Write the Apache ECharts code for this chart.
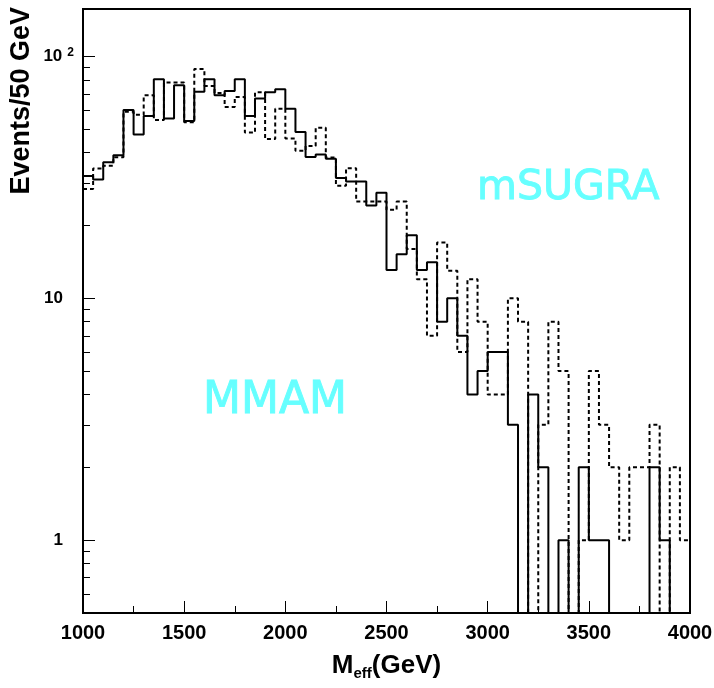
<!DOCTYPE html>
<html>
<head>
<meta charset="utf-8">
<script src="https://cdn.jsdelivr.net/npm/echarts@6/dist/echarts.min.js"></script>
<style>
  html, body { margin: 0; padding: 0; background: #fff; }
  #chart { width: 714px; height: 688px; }
</style>
</head>
<body>
<div id="chart"></div>
<script>
// ---- data (events per 50 GeV bin, bins from 1000 to 4000 GeV) ----
const binStart = 1000;
const binWidth = 50;
const mmam = [ // solid histogram
  32, 31, 36.5, 39, 60, 47.5, 56.7, 80.5, 55.3, 76,
  54, 71.4, 80.5, 69, 72, 80.5, 56.7, 67, 71, 73.2,
  60.8, 48.7, 38.4, 39.3, 37.7, 31.4, 30.4, 30.4, 24.2, 27.3,
  13.1, 15.2, 18.2, 13.1, 14.1, 8, 10, 7, 4, 5,
  6, 6, 3, 0, 4, 2, 0, 1, 0, 2,
  1, 1, 0, 0, 0, 0, 2, 1, 0, 0
];
const msugra = [ // dashed histogram
  28.3, 34.4, 35.3, 38.3, 59, 57.4, 69, 54.6, 78, 78,
  53.4, 88.6, 75.5, 70.5, 61.8, 68, 48.4, 71, 45.5, 60.8,
  45.8, 40.7, 42.6, 50.7, 38.2, 29.2, 34.5, 25.1, 25.1, 25.1,
  23.2, 25.1, 16, 12, 7, 17, 13, 6, 12, 8,
  4, 4, 10, 8, 0, 3, 8, 5, 0, 1,
  5, 3, 2, 1, 2, 2, 3, 0, 2, 1
];
const yMajorTicks = [1, 10, 100];
const yMinorTicks = [0.6, 0.7, 0.8, 0.9, 2, 3, 4, 5, 6, 7, 8, 9, 20, 30, 40, 50, 60, 70, 80, 90];
const xLabels = [1000, 1500, 2000, 2500, 3000, 3500, 4000];

// empty bins (0) cannot be drawn on a log axis: push them below the visible range (clipped)
const FLOOR = 1e-3;
function stepData(arr) {
  const pts = arr.map((v, i) => [binStart + i * binWidth, v > 0 ? v : FLOOR]);
  const last = arr[arr.length - 1];
  pts.push([binStart + arr.length * binWidth, last > 0 ? last : FLOOR]);
  return pts;
}

const chart = echarts.init(document.getElementById('chart'), null, { renderer: 'canvas' });
const FONT = 'Liberation Sans';
const yMin = 0.5, yMax = 157;
const CYAN = '#66ffff';

chart.setOption({
  animation: false,
  backgroundColor: '#ffffff',
  grid: {
    left: 83, right: 24, top: 9, bottom: 75,
    containLabel: false, outerBoundsMode: 'none',
    show: true, borderColor: '#000', borderWidth: 2, backgroundColor: 'transparent'
  },
  xAxis: {
    type: 'value', min: 1000, max: 4000, interval: 500,
    axisLine: { show: true, lineStyle: { color: '#000', width: 2 } },
    axisTick: { show: true, inside: true, length: 12, lineStyle: { color: '#000', width: 1 } },
    minorTick: { show: true, splitNumber: 2, length: 7, lineStyle: { color: '#000', width: 1 } },
    splitLine: { show: false },
    axisLabel: {
      color: '#000', fontFamily: FONT, fontWeight: 'bold', fontSize: 20, margin: 10,
      customValues: xLabels,
      formatter: function (v) { return String(v); }
    },
    name: 'M{sub|eff}(GeV)',
    nameLocation: 'middle',
    nameGap: 37,
    nameTextStyle: {
      color: '#000', fontFamily: FONT, fontWeight: 'bold', fontSize: 26,
      rich: { sub: { color: '#000', fontFamily: FONT, fontWeight: 'bold', fontSize: 15, padding: [16, 0, 0, 0] } }
    }
  },
  yAxis: [
    {
      type: 'log', logBase: 10, min: yMin, max: yMax,
      axisLine: { show: true, lineStyle: { color: '#000', width: 2 } },
      axisTick: { show: true, inside: true, length: 12, customValues: yMajorTicks, lineStyle: { color: '#000', width: 1 } },
      splitLine: { show: false },
      axisLabel: {
        customValues: yMajorTicks,
        color: '#000', fontFamily: FONT, fontWeight: 'bold', fontSize: 17, margin: 9,
        formatter: function (v) {
          if (Math.abs(v - 100) < 1e-6) return '10{sup|2}';
          if (Math.abs(v - 10) < 1e-6) return '10{gap| }';
          if (Math.abs(v - 1) < 1e-6) return '1{gap| }';
          return '';
        },
        rich: {
          sup: { color: '#000', fontFamily: FONT, fontWeight: 'bold', fontSize: 12, padding: [0, 0, 8, 5] },
          gap: { width: 11, fontSize: 12 }
        }
      }
    },
    {
      type: 'log', logBase: 10, min: yMin, max: yMax, position: 'left',
      axisLine: { show: false },
      axisTick: { show: true, inside: true, length: 7, customValues: yMinorTicks, lineStyle: { color: '#000', width: 1 } },
      axisLabel: { show: false },
      splitLine: { show: false }
    }
  ],
  graphic: [
    {
      type: 'text', x: 22, y: 7, rotation: Math.PI / 2,
      style: {
        text: 'Events/50 GeV', fill: '#000', fontFamily: FONT, fontWeight: 'bold', fontSize: 27,
        align: 'right', verticalAlign: 'middle'
      }
    },
    {
      type: 'text', x: 477, y: 188,
      style: {
        text: 'mSUGRA', fill: CYAN, stroke: CYAN, lineWidth: 0.9, lineJoin: 'round',
        fontFamily: 'DejaVu Sans', fontSize: 41, align: 'left', verticalAlign: 'middle'
      }
    },
    {
      type: 'text', x: 203, y: 402,
      style: {
        text: 'MMAM', fill: CYAN, stroke: CYAN, lineWidth: 0.9, lineJoin: 'round',
        fontFamily: 'DejaVu Sans', fontSize: 44, align: 'left', verticalAlign: 'middle'
      }
    }
  ],
  series: [
    {
      name: 'mSUGRA', type: 'line', step: 'end', yAxisIndex: 0,
      data: stepData(msugra),
      showSymbol: false, clip: true,
      lineStyle: { color: '#000', width: 2, type: [4, 3] }
    },
    {
      name: 'MMAM', type: 'line', step: 'end', yAxisIndex: 0,
      data: stepData(mmam),
      showSymbol: false, clip: true,
      lineStyle: { color: '#000', width: 2, type: 'solid' }
    }
  ]
});
</script>
</body>
</html>
